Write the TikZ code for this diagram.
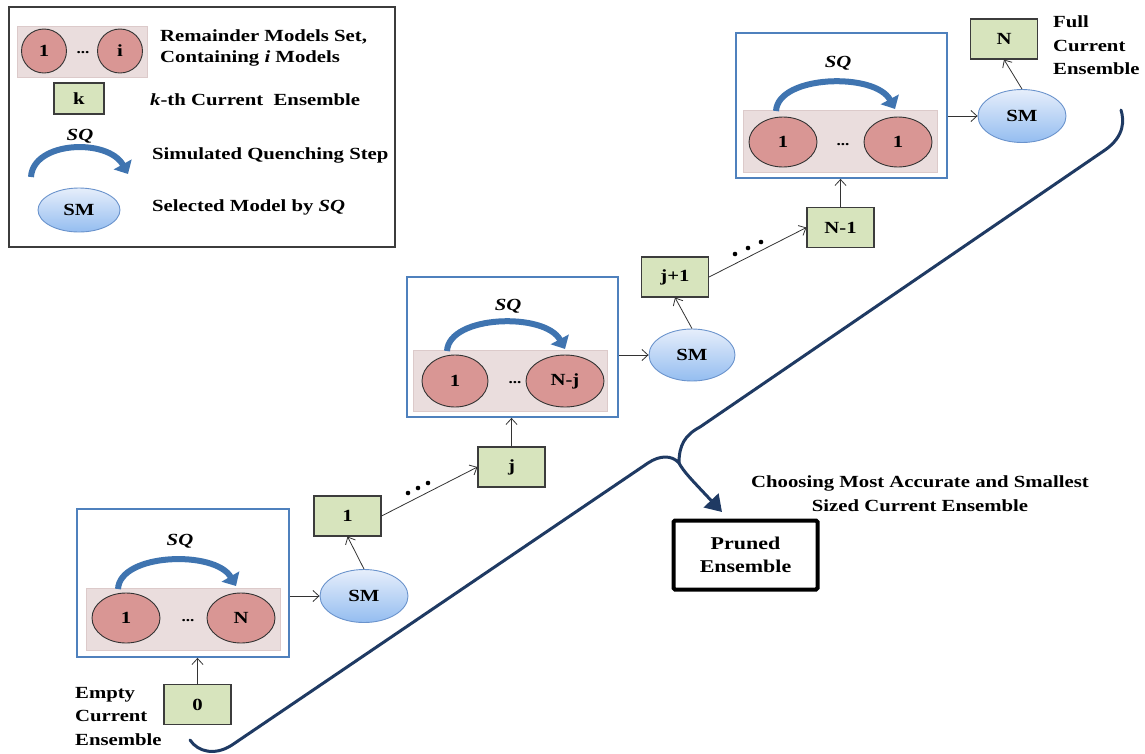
\documentclass[tikz,border=0pt]{standalone}
\usepackage{fontspec}
\setmainfont{Liberation Serif}[FakeStretch=1.22]
\usetikzlibrary{arrows.meta,shapes.geometric,calc}
\definecolor{gfill}{HTML}{D7E4BD}
\definecolor{gborder}{HTML}{3C3C3C}
\definecolor{cfill}{HTML}{D99694}
\definecolor{cborder}{HTML}{333333}
\definecolor{pinkbg}{HTML}{EADDDD}
\definecolor{pinkbd}{HTML}{DCCACA}
\definecolor{bluebox}{HTML}{4F81BD}
\definecolor{smtop}{HTML}{E6EEFB}
\definecolor{smbot}{HTML}{94BDF0}
\definecolor{smborder}{HTML}{6A93CC}
\definecolor{sqblue}{HTML}{3F74B0}
\definecolor{bracec}{HTML}{1F3A63}
\definecolor{linec}{HTML}{333333}
\newcommand\fs{\fontsize{17}{21}\selectfont}
\begin{document}
\begin{tikzpicture}[x=1pt,y=-1pt,
  greenbox/.style={draw=gborder, fill=gfill, line width=1.1pt, minimum width=67pt, minimum height=40pt, inner sep=0pt, font=\fs\bfseries},
  model/.style={ellipse, draw=cborder, fill=cfill, line width=0.9pt, minimum width=68pt, minimum height=50pt, inner sep=0pt, font=\fs\bfseries},
  smnode/.style={ellipse, draw=smborder, top color=smtop, bottom color=smbot, line width=0.9pt, minimum width=88pt, minimum height=53pt, inner sep=0pt, font=\fs\bfseries},
  sqbox/.style={draw=bluebox, line width=1.8pt, fill=white, inner sep=0pt},
  pinkset/.style={fill=pinkbg, draw=pinkbd, line width=0.5pt, inner sep=0pt},
  link/.style={draw=linec, line width=0.8pt, -{Straight Barb[length=6pt,width=11pt]}},
  sqarc/.style={draw=sqblue, line width=6pt, -{Triangle[length=11pt,width=20pt]}},
  sqlabel/.style={font=\fs\bfseries\itshape, inner sep=0pt},
  dotsl/.style={font=\fontsize{14}{16}\selectfont\bfseries, inner sep=0pt},
  legtext/.style={anchor=west, font=\fs\bfseries, inner sep=0pt},
  bdot/.style={fill=black, draw=none}
]
\useasboundingbox (0,0) rectangle (1145,753);

% ---------- legend ----------
\node[draw=gborder, line width=1.2pt, minimum width=386pt, minimum height=240pt, inner sep=0pt] (legend) at (202,127) {};
\node[pinkset, minimum width=130pt, minimum height=51pt] (lpink) at (82,51.5) {};
\node[model, minimum width=45pt, minimum height=44pt] (lc1) at (44,51) {1};
\node[model, minimum width=45pt, minimum height=44pt] (lci) at (120,51) {i};
\node[dotsl] (ldots) at (83,53) {...};
\node[legtext] (lt1) at (160,37) {Remainder Models Set,};
\node[legtext] (lt2) at (160,58) {Containing \textit{i} Models};
\node[greenbox, minimum width=50pt, minimum height=31pt] (lk) at (79,98.5) {k};
\node[legtext] (lt3) at (150,100) {\textit{k}-th Current\ \ Ensemble};
\node[sqlabel] (lsq) at (80,136) {SQ};
\draw[sqarc] (31,177) .. controls (33,141) and (108,138) .. (128,174);
\node[legtext] (lt4) at (152,155) {Simulated Quenching Step};
\node[smnode, minimum width=82pt, minimum height=44pt] (lsm) at (79,210) {SM};
\node[legtext] (lt5) at (152,207) {Selected Model by \textit{SQ}};

% ---------- stage 1 ----------
\node[sqbox, minimum width=212pt, minimum height=148pt] (box1) at (183,583) {};
\node[pinkset, minimum width=194pt, minimum height=62pt] (pink1) at (183,619) {};
\node[model] (m11) at (126,618) {1};
\node[model] (m1N) at (241,618) {N};
\node[dotsl] (d1) at (188,621) {...};
\node[sqlabel] (sq1) at (180,541) {SQ};
\draw[sqarc] (118,589) .. controls (120,553) and (215,550) .. (236,586);
\node[smnode] (sm1) at (364,596) {SM};
\node[greenbox] (c0) at (197.5,704.5) {0};
\node[greenbox] (c1) at (347.5,516) {1};

% ---------- stage 2 ----------
\node[sqbox, minimum width=211pt, minimum height=140pt] (box2) at (512.5,347) {};
\node[pinkset, minimum width=194pt, minimum height=61pt] (pink2) at (510,380.5) {};
\node[model, minimum width=66pt, minimum height=52pt] (m21) at (455,381) {1};
\node[model, minimum width=78pt, minimum height=52pt] (m2N) at (565,381) {N-j};
\node[dotsl] (d2) at (515,383) {...};
\node[sqlabel] (sq2) at (508,306) {SQ};
\draw[sqarc] (447,351) .. controls (449,315) and (545,312) .. (565,349);
\node[smnode, minimum width=86pt, minimum height=52pt] (sm2) at (692,355) {SM};
\node[greenbox] (cj) at (511.5,467) {j};
\node[greenbox] (cj1) at (675,277) {j+1};

% ---------- stage 3 ----------
\node[sqbox, minimum width=211pt, minimum height=145pt] (box3) at (841.5,105.5) {};
\node[pinkset, minimum width=194pt, minimum height=62pt] (pink3) at (840,141) {};
\node[model] (m31) at (783,142) {1};
\node[model] (m3N) at (898,142) {1};
\node[dotsl] (d3) at (843,145) {...};
\node[sqlabel] (sq3) at (838,63) {SQ};
\draw[sqarc] (776,111) .. controls (778,75) and (875,72) .. (895,109);
\node[smnode] (sm3) at (1022,116) {SM};
\node[greenbox] (cN1) at (840.5,227.5) {N-1};
\node[greenbox] (cN) at (1004,39) {N};

% ---------- connectors ----------
\draw[link] (c0.north) -- (c0.north |- box1.south);
\draw[link] (sm1.west -| box1.east) -- (sm1.west);
\draw[link] (sm1.north) -- (c1.south);
\draw[link] (c1.east) -- (cj.west);
\draw[link] (cj.north) -- (cj.north |- box2.south);
\draw[link] (sm2.west -| box2.east) -- (sm2.west);
\draw[link] (sm2.north) -- (cj1.south);
\draw[link] (cj1.east) -- (cN1.west);
\draw[link] (cN1.north) -- (cN1.north |- box3.south);
\draw[link] (sm3.west -| box3.east) -- (sm3.west);
\draw[link] (sm3.north) -- (cN.south);

% dots on skipped steps
\foreach \p in {(408,493),(418,488),(428,483),(735,254),(748,248),(761,242)}
  \fill[bdot] \p circle (2.3pt);

% ---------- side labels ----------
\node[anchor=north west, align=left, inner sep=0pt, font=\fontsize{17}{23.5}\selectfont\bfseries] (empty) at (75,687) {Empty\\Current\\Ensemble};
\node[anchor=north west, align=left, inner sep=0pt, font=\fontsize{17}{23.2}\selectfont\bfseries] (full) at (1053,16) {Full\\Current\\Ensemble};

% ---------- brace ----------
\coordinate (cusp) at (679,463);
\coordinate (tip) at (722,512);
\draw[bracec, line width=3pt, line cap=round]
  (190,740) .. controls (198,752) and (215,756) .. (232,745)
  -- (648,463) .. controls (660,455) and (672,455) .. (cusp)
  .. controls (679,445) and (685,435) .. (700,427)
  -- (1105,150) .. controls (1125,136) and (1124,120) .. (1121,110);
\draw[bracec, line width=3pt, -{Triangle[length=16pt,width=20pt]}] (cusp) .. controls (684,472) and (690,478) .. (tip);

% ---------- result ----------
\node[draw=black, line width=4pt, rounded corners=1.5pt, minimum width=144pt, minimum height=69pt, align=center, inner sep=0pt, font=\fontsize{18}{23}\selectfont\bfseries] (pruned) at (745.5,555) {Pruned\\Ensemble};
\node[align=center, inner sep=0pt, font=\fontsize{17}{24}\selectfont\bfseries] (choose) at (920,494) {Choosing Most Accurate and Smallest\\Sized Current Ensemble};
\end{tikzpicture}
\end{document}
